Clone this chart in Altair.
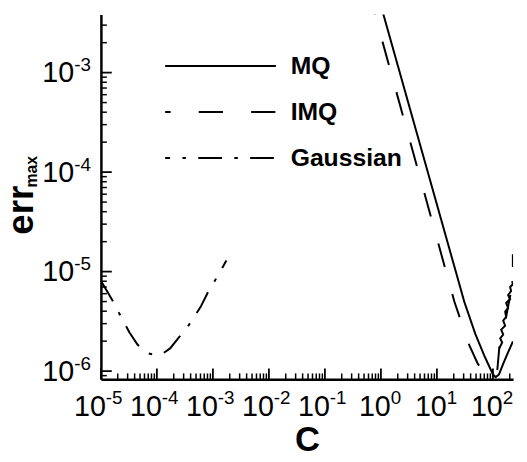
import altair as alt
import pandas as pd

FONT = "Liberation Sans"

# ---------------- data ----------------
SERIES = ["MQ", "IMQ", "Gaussian"]

MQ_C = [1.10, 30.9, 48.3, 69.7, 88.9, 100.5, 112, 128, 157, 187, 228]
MQ_E = [3.9e-3, 4.95e-6, 2.38e-6, 1.44e-6, 1.07e-6, 9.23e-7, 8.7e-7, 9.23e-7, 1.23e-6, 1.55e-6, 1.99e-6]

IMQ_C = [0.600, 20.6, 37.8, 53.1, 72.6, 96.4, 119.5, 129.6, 172.3, 211.2, 227, 227]
IMQ_E = [6.59e-3, 4.95e-6, 1.82e-6, 1.20e-6, 9.12e-7, 8.52e-7, 1.01e-6, 1.69e-6, 3.52e-6, 6.37e-6, 8.01e-6, 1.49e-5]

# noisy (oscillating) part of the IMQ curve near the right edge
IMQ_NOISE_C = [129.6, 146.4, 134.9, 152.5, 140.6, 165.4, 152.5, 172.3, 165.4, 186.9, 172.3,
               202.8, 186.9, 211.2, 202.8, 227, 219.9]
IMQ_NOISE_E = [1.69e-6, 1.94e-6, 2.13e-6, 2.33e-6, 2.61e-6, 2.86e-6, 3.21e-6, 3.52e-6, 3.94e-6,
               4.32e-6, 4.84e-6, 5.31e-6, 5.82e-6, 6.37e-6, 6.98e-6, 7.48e-6, 8.01e-6]

GAUSS_C = [1.0e-5, 1.63e-5, 2.0e-5, 3.24e-5, 4.5e-5, 5.73e-5, 7.0e-5, 9.7e-5, 1.29e-4,
           1.72e-4, 2.47e-4, 3.56e-4, 6.04e-4, 8.03e-4, 1.07e-3, 1.74e-3]
GAUSS_E = [8.07e-6, 5.07e-6, 4.04e-6, 2.44e-6, 1.85e-6, 1.62e-6, 1.51e-6, 1.44e-6, 1.51e-6,
           1.69e-6, 2.18e-6, 2.80e-6, 4.42e-6, 6.10e-6, 8.0e-6, 1.29e-5]

X_TICKS = [1e-5, 1e-4, 1e-3, 1e-2, 1e-1, 1e0, 1e1, 1e2]
X_EXP = ["-5", "-4", "-3", "-2", "-1", "0", "1", "2"]
Y_TICKS = [1e-6, 1e-5, 1e-4, 1e-3]
Y_EXP = ["-6", "-5", "-4", "-3"]

X_DOMAIN = [1e-5, 229]
Y_DOMAIN = [8.27e-7, 3.83e-3]

DASHES = [[1, 0], [24.5, 28.5], [24, 12.5, 3.5, 12.5]]

W, H = 417, 369

# ---------------- tables ----------------
rows = []
for name, cs, es in [("MQ", MQ_C, MQ_E), ("IMQ", IMQ_C, IMQ_E), ("Gaussian", GAUSS_C, GAUSS_E)]:
    for i, (c, e) in enumerate(zip(cs, es)):
        rows.append({"series": name, "c": c, "e": e, "i": i})
df = pd.DataFrame(rows)
noise = pd.DataFrame({"c": IMQ_NOISE_C, "e": IMQ_NOISE_E, "i": list(range(len(IMQ_NOISE_C)))})

x_minor = [m * 10.0 ** k for k in range(-5, 3) for m in range(2, 10)
           if m * 10.0 ** k <= X_DOMAIN[1]]
y_minor = [m * 10.0 ** k for k in range(-7, -2) for m in range(2, 10)
           if Y_DOMAIN[0] <= m * 10.0 ** k <= Y_DOMAIN[1]]

xlab = pd.DataFrame({"c": X_TICKS, "exp": X_EXP})
xlab["neg"] = xlab["exp"].str.startswith("-")
ylab = pd.DataFrame({"e": Y_TICKS, "exp": Y_EXP})

xs = alt.Scale(type="log", domain=X_DOMAIN, nice=False)
ys = alt.Scale(type="log", domain=Y_DOMAIN, nice=False)

xaxis = alt.Axis(title="C", titleFont=FONT, titleFontSize=35, titleFontWeight="bold",
                 titleColor="black", titleY=72, titleBaseline="alphabetic",
                 labels=False, ticks=False, grid=False,
                 domainColor="black", domainWidth=2.5)
yaxis = alt.Axis(title=None, labels=False, ticks=False, grid=False,
                 domainColor="black", domainWidth=2.5)

X = lambda: alt.X("c:Q", scale=xs, axis=xaxis)
Y = lambda: alt.Y("e:Q", scale=ys, axis=yaxis)

lines = alt.Chart(df).mark_line(clip=True, color="black", strokeWidth=2).encode(
    x=X(), y=Y(),
    strokeDash=alt.StrokeDash(
        "series:N",
        scale=alt.Scale(domain=SERIES, range=DASHES),
        legend=alt.Legend(
            title=None, orient="none", legendX=64, legendY=40,
            symbolType="stroke", symbolSize=12544, symbolStrokeWidth=2,
            symbolStrokeColor="black", symbolDashOffset=19,
            labelFont=FONT, labelFontSize=25, labelFontWeight="bold",
            labelColor="black", labelOffset=14,
            clipHeight=24, rowPadding=21.5, padding=0, offset=0,
        ),
    ),
    order=alt.Order("i:Q"),
)

noise_line = alt.Chart(noise).mark_line(clip=True, color="black", strokeWidth=2).encode(
    x=X(), y=Y(), order=alt.Order("i:Q"))

xmaj = alt.Chart(pd.DataFrame({"c": X_TICKS})).mark_rule(color="black", strokeWidth=1.8).encode(
    x=X(), y=alt.value(H), y2=alt.value(H - 11))
xmin = alt.Chart(pd.DataFrame({"c": x_minor})).mark_rule(color="black", strokeWidth=1.5).encode(
    x=X(), y=alt.value(H), y2=alt.value(H - 6))
ymaj = alt.Chart(pd.DataFrame({"e": Y_TICKS})).mark_rule(color="black", strokeWidth=1.8).encode(
    y=Y(), x=alt.value(0), x2=alt.value(11))
ymin = alt.Chart(pd.DataFrame({"e": y_minor})).mark_rule(color="black", strokeWidth=1.5).encode(
    y=Y(), x=alt.value(0), x2=alt.value(6))

base_txt = dict(font=FONT, color="black", baseline="middle")

def xlabels(neg, off):
    src = alt.Chart(xlab).transform_filter(
        alt.datum.neg if neg else ~alt.datum.neg)
    ten = src.mark_text(align="right", dx=off, fontSize=29, **base_txt).encode(
        x=X(), y=alt.value(H + 28), text=alt.value("10"))
    ex = src.mark_text(align="left", dx=off, fontSize=19, **base_txt).encode(
        x=X(), y=alt.value(H + 19), text="exp:N")
    return [ten, ex]

yl_ten = alt.Chart(ylab).mark_text(align="right", dy=1, fontSize=29, **base_txt).encode(
    y=Y(), x=alt.value(-27), text=alt.value("10"))
yl_exp = alt.Chart(ylab).mark_text(align="left", dy=-7.5, fontSize=19, **base_txt).encode(
    y=Y(), x=alt.value(-27), text="exp:N")

one = alt.Data(values=[{}])
err_t = alt.Chart(one).mark_text(text="err", angle=270, align="center", baseline="alphabetic",
                                 font=FONT, fontSize=37, fontWeight="bold", color="black").encode(
    x=alt.value(-69), y=alt.value(198))
max_t = alt.Chart(one).mark_text(text="max", angle=270, align="center", baseline="alphabetic",
                                 font=FONT, fontSize=16, fontWeight="bold", color="black").encode(
    x=alt.value(-65), y=alt.value(159))

chart = alt.layer(
    lines, noise_line, xmaj, xmin, ymaj, ymin,
    *xlabels(True, 5), *xlabels(False, 10),
    yl_ten, yl_exp, err_t, max_t,
).properties(
    width=W, height=H,
    autosize=alt.AutoSizeParams(type="none"),
    padding={"left": 94, "top": 4, "right": 6, "bottom": 81},
).configure_view(strokeWidth=0)

chart.save("out.html", embed_options={"renderer": "svg", "actions": False})
